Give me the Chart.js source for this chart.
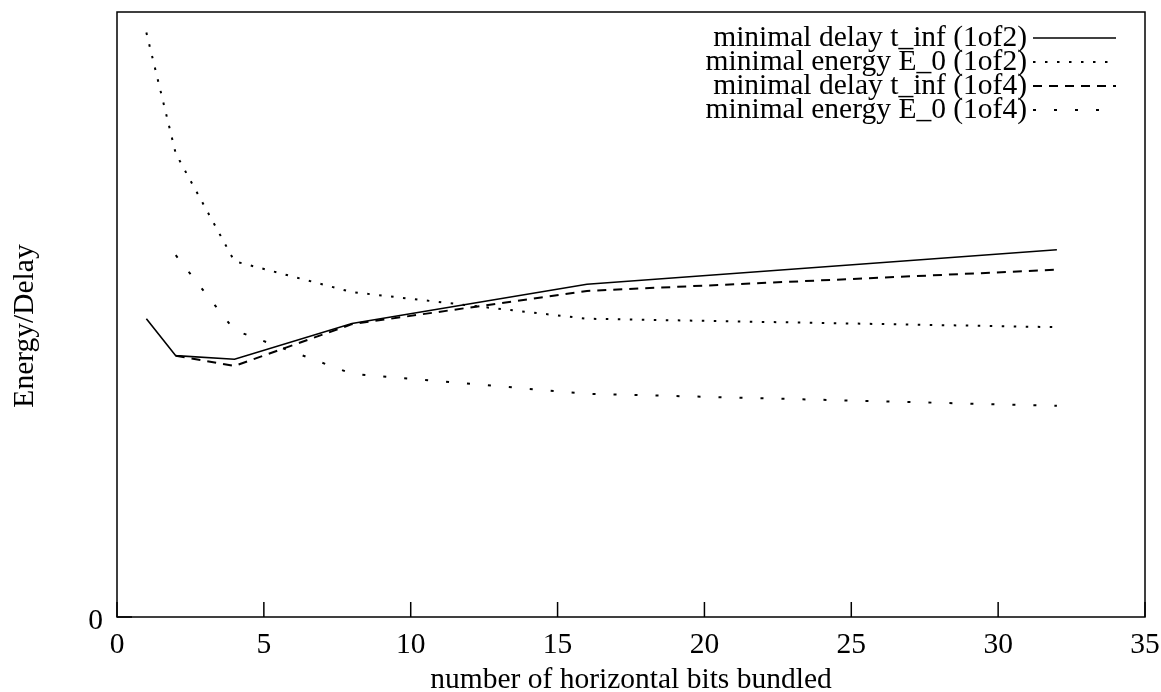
<!DOCTYPE html>
<html>
<head>
<meta charset="utf-8">
<script src="https://cdn.jsdelivr.net/npm/chart.js@4.4.0/dist/chart.umd.min.js"></script>
<style>
  html, body { margin: 0; padding: 0; background: #fff; }
  #wrap { width: 1161px; height: 692px; }
</style>
</head>
<body>
<div id="wrap"><canvas id="plot" width="1161" height="692"></canvas></div>
<script>
// bundle sizes on the x axis
const bits = [1, 2, 4, 8, 16, 32];

// measured series (arbitrary energy/delay units)
const delay1of2 = [49.3, 43.2, 42.6, 48.5, 55.0, 60.7];
const energy1of2 = [96.6, 76.6, 58.8, 53.7, 49.3, 47.9];
const delay1of4 = [null, 43.2, 41.5, 48.4, 53.9, 57.4];
const energy1of4 = [null, 59.8, 47.4, 40.2, 36.9, 34.9];

const xTicks = [0, 5, 10, 15, 20, 25, 30, 35];
const yTicks = [0];

const FONT = '29.5px "Liberation Serif", "Times New Roman", serif';

const series = [
  { label: "minimal delay t_inf (1of2)", data: delay1of2, dash: [] },
  { label: "minimal energy E_0 (1of2)", data: energy1of2, dash: [2.5, 9.5] },
  { label: "minimal delay t_inf (1of4)", data: delay1of4, dash: [9, 7] },
  { label: "minimal energy E_0 (1of4)", data: energy1of4, dash: [3, 18] },
];

// frame, inward ticks, labels and the key, drawn on top of the lines
const gnuplotFrame = {
  id: "gnuplotFrame",
  afterDraw(chart) {
    const { ctx, chartArea: a, scales } = chart;
    const x = scales.x, y = scales.y;
    ctx.save();
    ctx.strokeStyle = "#000";
    ctx.fillStyle = "#000";
    ctx.lineWidth = 1.5;
    ctx.setLineDash([]);
    ctx.strokeRect(a.left, a.top, a.right - a.left, a.bottom - a.top);

    ctx.font = FONT;
    ctx.textBaseline = "alphabetic";

    // x ticks
    ctx.textAlign = "center";
    x.ticks.forEach(t => {
      const px = x.getPixelForValue(t.value);
      ctx.beginPath();
      ctx.moveTo(px, a.bottom);
      ctx.lineTo(px, a.bottom - 15);
      ctx.stroke();
      ctx.fillText(String(t.value), px, a.bottom + 36);
    });

    // y ticks
    ctx.textAlign = "right";
    y.ticks.forEach(t => {
      const py = y.getPixelForValue(t.value);
      ctx.beginPath();
      ctx.moveTo(a.left, py);
      ctx.lineTo(a.left + 15, py);
      ctx.stroke();
      ctx.fillText(String(t.value), a.left - 14, py + 12);
    });

    // axis titles
    ctx.textAlign = "center";
    ctx.fillText("number of horizontal bits bundled", (a.left + a.right) / 2, 688);
    ctx.save();
    ctx.translate(33, 326);
    ctx.rotate(-Math.PI / 2);
    ctx.fillText("Energy/Delay", 0, 0);
    ctx.restore();

    // key: text on the left, line sample on the right
    const rowY = [38, 62, 86, 110];
    chart.data.datasets.forEach((ds, i) => {
      const ry = rowY[i];
      ctx.textAlign = "right";
      ctx.fillText(ds.label, 1027, ry + 8);
      ctx.beginPath();
      ctx.setLineDash(ds.borderDash || []);
      ctx.lineWidth = ds.borderWidth;
      ctx.moveTo(1033, ry);
      ctx.lineTo(1116, ry);
      ctx.stroke();
      ctx.setLineDash([]);
    });
    ctx.restore();
  }
};

new Chart(document.getElementById("plot"), {
  type: "line",
  data: {
    labels: bits,
    datasets: series.map(s => ({
      label: s.label,
      data: bits.map((b, i) => ({ x: b, y: s.data[i] })),
      borderColor: "#000",
      borderWidth: s.dash.length ? 2 : 1.6,
      borderDash: s.dash,
      pointRadius: 0,
      tension: 0,
      fill: false,
      spanGaps: false,
    })),
  },
  options: {
    responsive: false,
    animation: false,
    devicePixelRatio: 1,
    layout: { padding: { left: 117, top: 12, right: 16, bottom: 75 } },
    plugins: { legend: { display: false }, tooltip: { enabled: false } },
    scales: {
      x: {
        type: "linear",
        display: false,
        min: 0,
        max: 35,
        afterBuildTicks: s => { s.ticks = xTicks.map(v => ({ value: v })); },
      },
      y: {
        type: "linear",
        display: false,
        min: 0,
        max: 100,
        afterBuildTicks: s => { s.ticks = yTicks.map(v => ({ value: v })); },
      },
    },
  },
  plugins: [gnuplotFrame],
});
</script>
</body>
</html>
